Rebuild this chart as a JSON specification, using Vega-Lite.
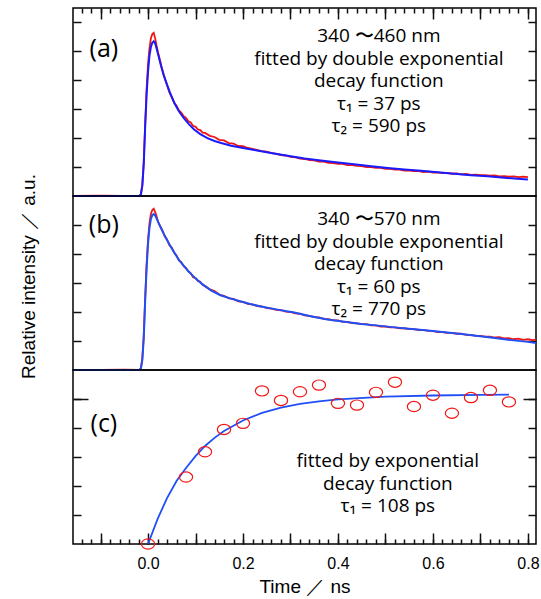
{
  "$schema": "https://vega.github.io/schema/vega-lite/v6.json",
  "padding": {"left": 18, "top": 6, "right": 5, "bottom": 5},
  "spacing": 0,
  "bounds": "flush",
  "config": {
    "concat": {"spacing": 0},
    "view": {"stroke": "black", "strokeWidth": 1.5},
    "axis": {"domain": false, "grid": false, "tickColor": "#111", "tickWidth": 1.5, "labelColor": "black", "titleColor": "black", "labelFont": "Liberation Sans", "titleFont": "Liberation Sans", "titleFontWeight": "normal"},
    "text": {"font": "Open Sans", "color": "black"}
  },
  "datasets": {
    "one": [{"k": 1}],
    "a_red": [
      {"t":-0.158,"v":0},{"t":-0.1,"v":0.01},{"t":-0.05,"v":0},{"t":-0.018,"v":0},{"t":-0.015,"v":0.07},{"t":-0.012,"v":0.4},{"t":-0.009,"v":1.2},{"t":-0.006,"v":2.5},{"t":-0.003,"v":3.7},{"t":0,"v":4.55},{"t":0.003,"v":5.1},{"t":0.006,"v":5.45},{"t":0.009,"v":5.6},{"t":0.012,"v":5.64},{"t":0.015,"v":5.45},{"t":0.018,"v":5.2},{"t":0.021,"v":4.97},{"t":0.025,"v":4.7},{"t":0.03,"v":4.37},{"t":0.035,"v":4.08},{"t":0.04,"v":3.84},{"t":0.045,"v":3.58},{"t":0.05,"v":3.42},{"t":0.055,"v":3.22},{"t":0.06,"v":3.12},{"t":0.065,"v":2.96},{"t":0.07,"v":2.88},{"t":0.075,"v":2.76},{"t":0.08,"v":2.7},{"t":0.085,"v":2.58},{"t":0.09,"v":2.54},{"t":0.095,"v":2.42},{"t":0.1,"v":2.4},{"t":0.105,"v":2.3},{"t":0.11,"v":2.28},{"t":0.115,"v":2.19},{"t":0.12,"v":2.18},{"t":0.13,"v":2.08},{"t":0.14,"v":2.04},{"t":0.15,"v":1.94},{"t":0.16,"v":1.92},{"t":0.17,"v":1.83},{"t":0.18,"v":1.81},{"t":0.19,"v":1.73},{"t":0.2,"v":1.72},{"t":0.21,"v":1.66},{"t":0.22,"v":1.63},{"t":0.23,"v":1.59},{"t":0.24,"v":1.55},{"t":0.25,"v":1.53},{"t":0.26,"v":1.48},{"t":0.27,"v":1.46},{"t":0.28,"v":1.41},{"t":0.29,"v":1.4},{"t":0.3,"v":1.35},{"t":0.31,"v":1.34},{"t":0.32,"v":1.29},{"t":0.33,"v":1.28},{"t":0.34,"v":1.24},{"t":0.35,"v":1.23},{"t":0.36,"v":1.19},{"t":0.37,"v":1.19},{"t":0.38,"v":1.15},{"t":0.39,"v":1.14},{"t":0.4,"v":1.11},{"t":0.41,"v":1.11},{"t":0.42,"v":1.07},{"t":0.43,"v":1.07},{"t":0.44,"v":1.04},{"t":0.45,"v":1.03},{"t":0.46,"v":1.0},{"t":0.47,"v":1.0},{"t":0.48,"v":0.97},{"t":0.49,"v":0.97},{"t":0.5,"v":0.94},{"t":0.51,"v":0.94},{"t":0.52,"v":0.91},{"t":0.53,"v":0.91},{"t":0.54,"v":0.88},{"t":0.55,"v":0.88},{"t":0.56,"v":0.86},{"t":0.57,"v":0.86},{"t":0.58,"v":0.83},{"t":0.59,"v":0.84},{"t":0.6,"v":0.81},{"t":0.61,"v":0.82},{"t":0.62,"v":0.79},{"t":0.63,"v":0.8},{"t":0.64,"v":0.77},{"t":0.65,"v":0.78},{"t":0.66,"v":0.75},{"t":0.67,"v":0.76},{"t":0.68,"v":0.73},{"t":0.69,"v":0.74},{"t":0.7,"v":0.72},{"t":0.71,"v":0.72},{"t":0.72,"v":0.7},{"t":0.73,"v":0.71},{"t":0.74,"v":0.68},{"t":0.75,"v":0.69},{"t":0.76,"v":0.67},{"t":0.77,"v":0.68},{"t":0.78,"v":0.65},{"t":0.79,"v":0.67},{"t":0.8,"v":0.65}
    ],
    "a_blue": [
      {"t":-0.158,"v":0},{"t":-0.018,"v":0},{"t":-0.015,"v":0.06},{"t":-0.012,"v":0.35},{"t":-0.009,"v":1.1},{"t":-0.006,"v":2.4},{"t":-0.003,"v":3.5},{"t":0,"v":4.3},{"t":0.003,"v":4.85},{"t":0.006,"v":5.15},{"t":0.009,"v":5.3},{"t":0.012,"v":5.35},{"t":0.015,"v":5.28},{"t":0.018,"v":5.1},{"t":0.022,"v":4.85},{"t":0.027,"v":4.52},{"t":0.033,"v":4.18},{"t":0.04,"v":3.85},{"t":0.048,"v":3.5},{"t":0.056,"v":3.2},{"t":0.065,"v":2.93},{"t":0.075,"v":2.7},{"t":0.085,"v":2.5},{"t":0.097,"v":2.3},{"t":0.11,"v":2.14},{"t":0.125,"v":2.0},{"t":0.14,"v":1.9},{"t":0.154,"v":1.83},{"t":0.175,"v":1.74},{"t":0.2,"v":1.66},{"t":0.224,"v":1.59},{"t":0.25,"v":1.51},{"t":0.294,"v":1.39},{"t":0.33,"v":1.3},{"t":0.364,"v":1.23},{"t":0.4,"v":1.16},{"t":0.434,"v":1.1},{"t":0.47,"v":1.03},{"t":0.505,"v":0.97},{"t":0.54,"v":0.92},{"t":0.575,"v":0.87},{"t":0.61,"v":0.82},{"t":0.645,"v":0.77},{"t":0.68,"v":0.72},{"t":0.715,"v":0.68},{"t":0.75,"v":0.63},{"t":0.785,"v":0.59},{"t":0.8,"v":0.57}
    ],
    "b_red": [
      {"t":-0.158,"v":0},{"t":-0.1,"v":0},{"t":-0.05,"v":0.01},{"t":-0.018,"v":0},{"t":-0.015,"v":0.07},{"t":-0.012,"v":0.4},{"t":-0.009,"v":1.2},{"t":-0.006,"v":2.5},{"t":-0.003,"v":3.65},{"t":0,"v":4.5},{"t":0.003,"v":5.05},{"t":0.006,"v":5.38},{"t":0.009,"v":5.52},{"t":0.012,"v":5.56},{"t":0.015,"v":5.45},{"t":0.018,"v":5.3},{"t":0.021,"v":5.12},{"t":0.025,"v":4.98},{"t":0.03,"v":4.82},{"t":0.035,"v":4.62},{"t":0.04,"v":4.5},{"t":0.045,"v":4.3},{"t":0.05,"v":4.22},{"t":0.055,"v":4.05},{"t":0.06,"v":3.95},{"t":0.065,"v":3.78},{"t":0.07,"v":3.72},{"t":0.075,"v":3.58},{"t":0.08,"v":3.52},{"t":0.085,"v":3.4},{"t":0.09,"v":3.33},{"t":0.095,"v":3.2},{"t":0.1,"v":3.17},{"t":0.105,"v":3.07},{"t":0.11,"v":3.04},{"t":0.115,"v":2.93},{"t":0.12,"v":2.9},{"t":0.13,"v":2.78},{"t":0.14,"v":2.72},{"t":0.15,"v":2.6},{"t":0.16,"v":2.56},{"t":0.17,"v":2.47},{"t":0.18,"v":2.45},{"t":0.19,"v":2.37},{"t":0.2,"v":2.35},{"t":0.21,"v":2.28},{"t":0.22,"v":2.26},{"t":0.23,"v":2.2},{"t":0.24,"v":2.19},{"t":0.25,"v":2.13},{"t":0.26,"v":2.12},{"t":0.27,"v":2.07},{"t":0.28,"v":2.06},{"t":0.29,"v":2.01},{"t":0.3,"v":2.0},{"t":0.31,"v":1.95},{"t":0.32,"v":1.94},{"t":0.33,"v":1.88},{"t":0.34,"v":1.87},{"t":0.35,"v":1.82},{"t":0.36,"v":1.81},{"t":0.37,"v":1.76},{"t":0.38,"v":1.75},{"t":0.39,"v":1.71},{"t":0.4,"v":1.71},{"t":0.41,"v":1.66},{"t":0.42,"v":1.66},{"t":0.43,"v":1.62},{"t":0.44,"v":1.61},{"t":0.45,"v":1.58},{"t":0.46,"v":1.58},{"t":0.47,"v":1.54},{"t":0.48,"v":1.54},{"t":0.49,"v":1.5},{"t":0.5,"v":1.5},{"t":0.51,"v":1.47},{"t":0.52,"v":1.47},{"t":0.53,"v":1.44},{"t":0.54,"v":1.44},{"t":0.55,"v":1.41},{"t":0.56,"v":1.41},{"t":0.57,"v":1.38},{"t":0.58,"v":1.38},{"t":0.59,"v":1.35},{"t":0.6,"v":1.35},{"t":0.61,"v":1.31},{"t":0.62,"v":1.31},{"t":0.63,"v":1.28},{"t":0.64,"v":1.28},{"t":0.65,"v":1.25},{"t":0.66,"v":1.25},{"t":0.67,"v":1.21},{"t":0.68,"v":1.21},{"t":0.69,"v":1.18},{"t":0.7,"v":1.18},{"t":0.71,"v":1.15},{"t":0.72,"v":1.15},{"t":0.73,"v":1.12},{"t":0.74,"v":1.13},{"t":0.75,"v":1.09},{"t":0.76,"v":1.1},{"t":0.77,"v":1.06},{"t":0.78,"v":1.08},{"t":0.79,"v":1.04},{"t":0.8,"v":1.06},{"t":0.81,"v":1.03},{"t":0.817,"v":1.05}
    ],
    "b_blue": [
      {"t":-0.158,"v":0},{"t":-0.018,"v":0},{"t":-0.015,"v":0.06},{"t":-0.012,"v":0.35},{"t":-0.009,"v":1.1},{"t":-0.006,"v":2.4},{"t":-0.003,"v":3.5},{"t":0,"v":4.35},{"t":0.003,"v":4.9},{"t":0.006,"v":5.2},{"t":0.009,"v":5.34},{"t":0.012,"v":5.38},{"t":0.015,"v":5.33},{"t":0.02,"v":5.15},{"t":0.025,"v":4.97},{"t":0.03,"v":4.8},{"t":0.036,"v":4.6},{"t":0.042,"v":4.42},{"t":0.048,"v":4.25},{"t":0.056,"v":4.03},{"t":0.065,"v":3.8},{"t":0.075,"v":3.6},{"t":0.084,"v":3.42},{"t":0.092,"v":3.29},{"t":0.1,"v":3.16},{"t":0.11,"v":3.02},{"t":0.119,"v":2.9},{"t":0.135,"v":2.72},{"t":0.154,"v":2.57},{"t":0.175,"v":2.46},{"t":0.196,"v":2.36},{"t":0.217,"v":2.27},{"t":0.238,"v":2.19},{"t":0.27,"v":2.09},{"t":0.308,"v":1.98},{"t":0.34,"v":1.86},{"t":0.378,"v":1.74},{"t":0.41,"v":1.67},{"t":0.449,"v":1.59},{"t":0.485,"v":1.53},{"t":0.519,"v":1.47},{"t":0.555,"v":1.41},{"t":0.589,"v":1.36},{"t":0.625,"v":1.3},{"t":0.66,"v":1.24},{"t":0.695,"v":1.17},{"t":0.73,"v":1.1},{"t":0.765,"v":1.03},{"t":0.8,"v":0.97},{"t":0.817,"v":0.93}
    ],
    "c_pts": [
      {"t":0.0,"v":0.0},{"t":0.08,"v":2.31},{"t":0.12,"v":3.18},{"t":0.16,"v":3.95},{"t":0.2,"v":4.16},{"t":0.24,"v":5.28},{"t":0.28,"v":4.95},{"t":0.32,"v":5.25},{"t":0.36,"v":5.48},{"t":0.4,"v":4.85},{"t":0.44,"v":4.79},{"t":0.48,"v":5.23},{"t":0.52,"v":5.58},{"t":0.56,"v":4.74},{"t":0.6,"v":5.13},{"t":0.64,"v":4.51},{"t":0.68,"v":5.05},{"t":0.72,"v":5.3},{"t":0.76,"v":4.9}
    ],
    "c_fit": [
      {"t":0.0,"v":0.0},{"t":0.02,"v":0.86},{"t":0.04,"v":1.58},{"t":0.06,"v":2.17},{"t":0.08,"v":2.62},{"t":0.1,"v":3.03},{"t":0.12,"v":3.38},{"t":0.14,"v":3.66},{"t":0.16,"v":3.9},{"t":0.2,"v":4.26},{"t":0.24,"v":4.52},{"t":0.28,"v":4.7},{"t":0.32,"v":4.83},{"t":0.36,"v":4.92},{"t":0.4,"v":4.99},{"t":0.5,"v":5.08},{"t":0.6,"v":5.12},{"t":0.7,"v":5.14},{"t":0.76,"v":5.15}
    ]
  },
  "vconcat": [
    {
      "width": 463, "height": 188,
      "layer": [
        {
          "data": {"name": "a_red"},
          "mark": {"type": "line", "color": "#f01414", "strokeWidth": 1.8},
          "encoding": {
            "x": {"field": "t", "type": "quantitative", "scale": {"domain": [-0.158, 0.817], "nice": false, "zero": false},
                  "axis": {"orient": "top", "values": [-0.1,0,0.1,0.2,0.3,0.4,0.5,0.6,0.7,0.8], "tickSize": -11, "labels": false, "title": null}},
            "y": {"field": "v", "type": "quantitative", "scale": {"domain": [0, 6.5], "nice": false, "zero": false},
                  "axis": {"orient": "left", "values": [1,2,3,4,5,6], "tickSize": -8, "labels": false, "title": null}}
          }
        },
        {
          "data": {"name": "a_blue"},
          "mark": {"type": "line", "color": "#1a1aff", "strokeWidth": 2},
          "encoding": {
            "x": {"field": "t", "type": "quantitative",
                  "axis": {"orient": "top", "values": [-0.14,-0.12,-0.1,-0.08,-0.06,-0.04,-0.02,0,0.02,0.04,0.06,0.08,0.1,0.12,0.14,0.16,0.18,0.2,0.22,0.24,0.26,0.28,0.3,0.32,0.34,0.36,0.38,0.4,0.42,0.44,0.46,0.48,0.5,0.52,0.54,0.56,0.58,0.6,0.62,0.64,0.66,0.68,0.7,0.72,0.74,0.76,0.78,0.8], "tickSize": -5, "labels": false, "title": null}},
            "y": {"field": "v", "type": "quantitative",
                  "axis": {"orient": "right", "values": [1,2,3,4,5,6], "tickSize": -8, "labels": false, "title": null}}
          }
        },
        {
          "data": {"name": "one"},
          "mark": {"type": "text", "fontSize": 25, "align": "center", "baseline": "middle"},
          "encoding": {
            "x": {"datum": -0.093, "type": "quantitative", "axis": null},
            "y": {"datum": 5.07, "type": "quantitative", "axis": null},
            "text": {"value": "(a)"}
          }
        },
        {
          "data": {"name": "one"},
          "mark": {"type": "text", "fontSize": 19, "align": "center", "baseline": "middle", "lineHeight": 22.5},
          "encoding": {
            "x": {"datum": 0.486, "type": "quantitative", "axis": null},
            "y": {"datum": 5.53, "type": "quantitative", "axis": null},
            "text": {"value": ["340 〜460 nm", "fitted by double exponential", "decay function", "τ₁ = 37 ps", "τ₂ = 590 ps"]}
          }
        }
      ],
      "resolve": {"axis": {"x": "independent", "y": "independent"}}
    },
    {
      "width": 463, "height": 174,
      "layer": [
        {
          "data": {"name": "b_red"},
          "mark": {"type": "line", "color": "#f01414", "strokeWidth": 1.8},
          "encoding": {
            "x": {"field": "t", "type": "quantitative", "scale": {"domain": [-0.158, 0.817], "nice": false, "zero": false}, "axis": null},
            "y": {"field": "v", "type": "quantitative", "scale": {"domain": [0, 6], "nice": false, "zero": false},
                  "axis": {"orient": "left", "values": [1,2,3,4,5], "tickSize": -8, "labels": false, "title": "Relative intensity ／ a.u.", "titleFontSize": 19, "titleX": -45, "titleY": 80, "titleBaseline": "middle", "titleAngle": 270}}
          }
        },
        {
          "data": {"name": "b_blue"},
          "mark": {"type": "line", "color": "#2050f5", "strokeWidth": 2},
          "encoding": {
            "x": {"field": "t", "type": "quantitative", "axis": null},
            "y": {"field": "v", "type": "quantitative",
                  "axis": {"orient": "right", "values": [1,2,3,4,5], "tickSize": -8, "labels": false, "title": null}}
          }
        },
        {
          "data": {"name": "one"},
          "mark": {"type": "text", "fontSize": 25, "align": "center", "baseline": "middle"},
          "encoding": {
            "x": {"datum": -0.093, "type": "quantitative", "axis": null},
            "y": {"datum": 5.0, "type": "quantitative", "axis": null},
            "text": {"value": "(b)"}
          }
        },
        {
          "data": {"name": "one"},
          "mark": {"type": "text", "fontSize": 19, "align": "center", "baseline": "middle", "lineHeight": 22.5},
          "encoding": {
            "x": {"datum": 0.486, "type": "quantitative", "axis": null},
            "y": {"datum": 5.2, "type": "quantitative", "axis": null},
            "text": {"value": ["340 〜570 nm", "fitted by double exponential", "decay function", "τ₁ = 60 ps", "τ₂ = 770 ps"]}
          }
        }
      ],
      "resolve": {"axis": {"x": "independent", "y": "independent"}}
    },
    {
      "width": 463, "height": 174,
      "layer": [
        {
          "data": {"name": "c_fit"},
          "mark": {"type": "line", "color": "#2050f5", "strokeWidth": 1.8},
          "encoding": {
            "x": {"field": "t", "type": "quantitative", "scale": {"domain": [-0.158, 0.817], "nice": false, "zero": false},
                  "axis": {"orient": "bottom", "values": [-0.14,-0.12,-0.1,-0.08,-0.06,-0.04,-0.02,0,0.02,0.04,0.06,0.08,0.1,0.12,0.14,0.16,0.18,0.2,0.22,0.24,0.26,0.28,0.3,0.32,0.34,0.36,0.38,0.4,0.42,0.44,0.46,0.48,0.5,0.52,0.54,0.56,0.58,0.6,0.62,0.64,0.66,0.68,0.7,0.72,0.74,0.76,0.78,0.8], "tickSize": -5, "labels": false, "title": null}},
            "y": {"field": "v", "type": "quantitative", "scale": {"domain": [0, 6], "nice": false, "zero": false},
                  "axis": {"orient": "right", "values": [1,2,3,4,5], "tickSize": -8, "labels": false, "title": null}}
          }
        },
        {
          "data": {"name": "c_pts"},
          "mark": {"type": "point", "shape": "M-1.1,0A1.1,0.85,0,1,1,1.1,0A1.1,0.85,0,1,1,-1.1,0Z", "size": 144, "filled": false, "color": "#f01414", "strokeWidth": 1.2, "opacity": 1},
          "encoding": {
            "x": {"field": "t", "type": "quantitative",
                  "axis": {"orient": "bottom", "values": [-0.1,0,0.1,0.2,0.3,0.4,0.5,0.6,0.7,0.8], "tickSize": -11, "labelPadding": 22, "labelFontSize": 16, "labelFlush": false,
                           "labelExpr": "round(datum.value*10) % 2 == 0 ? format(datum.value, '.1f') : ''",
                           "title": "Time ／ ns", "titleFontSize": 19, "titlePadding": 6}},
            "y": {"field": "v", "type": "quantitative",
                  "axis": {"orient": "left", "values": [1,2,3,4,5], "tickSize": -8, "labels": false, "title": null}}
          }
        },
        {
          "data": {"name": "one"},
          "mark": {"type": "text", "fontSize": 25, "align": "center", "baseline": "middle"},
          "encoding": {
            "x": {"datum": -0.093, "type": "quantitative", "axis": null},
            "y": {"datum": 4.15, "type": "quantitative", "axis": {"orient": "left", "values": [5], "tickSize": -15, "labels": false, "title": null}},
            "text": {"value": "(c)"}
          }
        },
        {
          "data": {"name": "one"},
          "mark": {"type": "text", "fontSize": 19, "align": "center", "baseline": "middle", "lineHeight": 22.5},
          "encoding": {
            "x": {"datum": 0.505, "type": "quantitative", "axis": null},
            "y": {"datum": 2.86, "type": "quantitative", "axis": {"orient": "right", "values": [5], "tickSize": -13, "labels": false, "title": null}},
            "text": {"value": ["fitted by exponential", "decay function", "τ₁ = 108 ps"]}
          }
        }
      ],
      "resolve": {"axis": {"x": "independent", "y": "independent"}}
    }
  ]
}
